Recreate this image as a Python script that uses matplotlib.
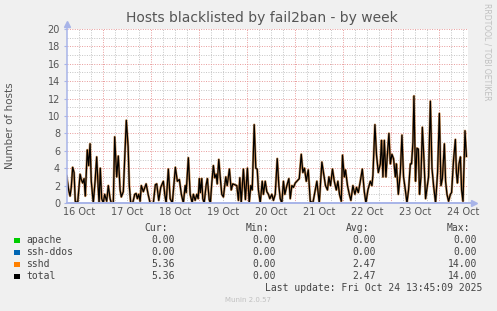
import matplotlib
matplotlib.use('Agg')
import matplotlib.pyplot as plt
from matplotlib.patches import Rectangle
from matplotlib.ticker import MultipleLocator

# hours since 16 Oct 00:00 and number of blacklisted hosts (sshd == total)
hours = [6, 7, 7.7, 8.3, 9, 9.7, 10.3, 11.5, 12.7, 13.3, 14, 14.7, 15.3, 16.3, 17, 17.7,
         18.3, 19.3, 20.2, 21, 21.7, 22.2, 22.8, 23.5, 24.3, 25, 26, 26.8, 27.7, 28.3, 29.3,
         30, 31, 31.8, 32.7, 33.3, 34.3, 35.8, 36.7, 37.3, 38, 39, 40, 40.7, 41.3, 42, 42.7,
         43.3, 44.3, 45.7, 46.7, 47.7, 49.3, 50.3, 51, 52, 53, 54.3, 55, 55.7, 56.8, 57.7,
         58.8, 60.3, 61.3, 62.3, 63.3, 64.3, 65.2, 65.7, 66.8, 67.7, 68.7, 69.3, 70.2, 71,
         71.7, 72.3, 72.8, 73.5, 74, 74.7, 75.7, 76.3, 77.2, 77.8, 78.5, 79.3, 80, 80.7, 81.2,
         82, 82.7, 83.5, 84.3, 85.5, 86.2, 87.3, 88.2, 89, 90, 91, 91.8, 92.5, 93.2, 94.3,
         95.3, 96.3, 97.2, 98, 98.7, 99.7, 100.5, 101.2, 101.8, 102.7, 103.7, 104.3, 105.2,
         106, 106.8, 107.5, 108.5, 109.3, 110.2, 111.2, 112, 112.7, 113.5, 114.3, 115, 116,
         117, 117.7, 118.5, 119.3, 120.2, 121, 122.2, 123.2, 124, 124.8, 125.7, 126.7, 127.7,
         129, 131, 132.2, 133.5, 134.3, 135.3, 136.3, 137, 137.8, 138.8, 139.7, 140.7, 141.5,
         142.3, 143.2, 143.8, 144.7, 145.3, 146.3, 147.2, 148, 149, 150, 150.8, 151.7, 152.7,
         153.7, 154.7, 155.5, 156.5, 157.7, 158.5, 159, 160, 160.8, 161.7, 162.7, 163.3, 164,
         164.7, 165.5, 166.2, 167, 167.7, 168.5, 169.3, 170.2, 170.7, 171.7, 172.7, 173.5,
         174.3, 175.2, 176, 176.8, 177.7, 178.3, 179, 179.5, 180.3, 181, 181.7, 182.3, 183,
         183.7, 184.5, 185.3, 186.2, 186.8, 187.7, 188.5, 189.3, 190.3, 191.3, 192.2, 193,
         193.7, 194.7, 195.3, 196, 196.8, 197.7, 198.3, 199.3, 200.2, 200.7, 201.2, 202, 202.7,
         203.3, 204, 205, 205.7]
hosts = [3.1, 1.5, 0.8, 1.8, 4.1, 3.5, 0.2, 0, 3.3, 2.7, 2.3, 2.8, 0.8, 6.1, 4.3, 6.8,
         2.5, 0, 2.5, 5.3, 2, 0, 4, 0.5, 0, 1.0, 0.2, 2.0, 0.5, 0, 0,
         7.6, 3, 5.4, 1.5, 0.7, 1.3, 9.5, 6.5, 2, 0, 0, 1.0, 1.1, 0.5, 1.0, 0.2,
         2.0, 1.3, 2.2, 1.0, 0, 0, 2.1, 2.2, 0.3, 1.8, 2.5, 1, 0, 3.9, 0.5,
         0, 4.1, 2.5, 2.7, 1.0, 0, 2.0, 1.2, 5.2, 1.0, 0, 1.0, 0.3, 1.0,
         0.5, 2.8, 1.2, 2.8, 0.5, 0, 2.1, 2.8, 0.4, 0, 2.3, 4.3, 2.9, 3.3, 2.2,
         5.0, 3.0, 1.0, 0.7, 3.0, 2.0, 3.9, 1.5, 2.2, 2.1, 2.0, 0.3, 2.9, 0, 3.9,
         0.4, 4.0, 0, 2, 1.5, 9.0, 4, 3.9, 1.5, 0, 2.5, 1.0, 2.5,
         1.3, 1.0, 0.5, 1.0, 0.3, 1.0, 5.1, 2.0, 0.5, 0, 2.5, 1, 2.0,
         2.8, 0.5, 2.0, 1.8, 2.3, 2.5, 2.8, 5.6, 3.5, 4.0, 2.5, 3.8, 0.2,
         0, 2.5, 0, 4.7, 3.5, 2, 1.5, 3.0, 2.0, 3.9, 2.5, 1.5, 2.5,
         1, 0.2, 5.5, 3.0, 3.8, 2.0, 1.0, 0.3, 2.0, 1.0, 1.8, 1.2, 2.5,
         3.9, 1.3, 0, 1.5, 2.5, 2.0, 3.2, 9.0, 5.5, 3.5, 4.5, 7.2, 3.0,
         7.2, 3.0, 5.5, 8.0, 4.5, 5.6, 5.1, 3.0, 4.5, 1.0, 3.5, 7.8,
         3.0, 1.5, 0, 1.5, 4.5, 4.5, 7.0, 12.3, 2.5, 6.3, 6.2, 1.0, 3.0,
         8.7, 5.0, 0.5, 2.0, 3.0, 11.7, 4.0, 2.0, 0, 3.5, 10.3, 2.0,
         2.8, 6.8, 2.5, 1.0, 0.2, 1.0, 1.2, 5.0, 7.3, 3.5, 2.3, 4.5, 5.3,
         1.5, 0.2, 8.3, 5.36]

day_labels = ['16 Oct', '17 Oct', '18 Oct', '19 Oct', '20 Oct', '21 Oct', '22 Oct', '23 Oct', '24 Oct']

series = ['apache', 'ssh-ddos', 'sshd', 'total']
colors = ['#00cc00', '#0066b3', '#ff8000', '#000000']
cur = ['0.00', '0.00', '5.36', '5.36']
mins = ['0.00', '0.00', '0.00', '0.00']
avgs = ['0.00', '0.00', '2.47', '2.47']
maxs = ['0.00', '0.00', '14.00', '14.00']

W, H = 497, 311
fig = plt.figure(figsize=(W / 100, H / 100), dpi=100, facecolor='#f0f0f0')
ax = fig.add_axes([67 / W, 1 - 203 / H, (468 - 67) / W, (203 - 29) / H])
ax.set_facecolor('white')

ax.set_xlim(6.17, 206.5)
ax.set_ylim(0, 20)

# grid
for x in range(12, 207, 6):
    if x % 24:
        ax.axvline(x, color='#c4c4c4', lw=0.7, ls=(0, (1, 1.5)), zorder=0)
for x in range(24, 207, 24):
    ax.axvline(x, color='#e89a9a', lw=0.7, ls=(0, (1, 1.5)), zorder=0)
for y in range(1, 21):
    c = '#e89a9a' if y % 2 == 0 else '#c4c4c4'
    ax.axhline(y, color=c, lw=0.7, ls=(0, (1, 1.5)), zorder=0)

ax.plot([hours[0], hours[-1]], [0, 0], color=colors[0], lw=0.5, zorder=1)
ax.plot([hours[0], hours[-1]], [0, 0], color=colors[1], lw=0.5, zorder=1)
ax.plot(hours, hosts, color='#b86a20', lw=1.7, alpha=0.75, zorder=3)
ax.plot(hours, hosts, color=colors[3], lw=0.9, zorder=4)

for s in ax.spines.values():
    s.set_visible(False)
axc = '#a8b4e8'
ax.plot([0, 0], [0, 1.02], transform=ax.transAxes, color=axc, lw=1.1, clip_on=False, zorder=6)
ax.plot([0, 1.012], [0, 0], transform=ax.transAxes, color=axc, lw=1.4, clip_on=False, zorder=6)
ax.plot([0], [1.03], transform=ax.transAxes, marker='^', ms=4, color=axc, clip_on=False)
ax.plot([1.015], [0], transform=ax.transAxes, marker='>', ms=4, color=axc, clip_on=False)

ax.yaxis.set_major_locator(MultipleLocator(2))
ax.set_xticks([12 + 24 * i for i in range(len(day_labels))])
ax.set_xticklabels(day_labels)
ax.tick_params(axis='both', length=0, labelsize=7, colors='#555555', pad=3)
ax.tick_params(axis='y', length=2, color=axc, width=0.8)

fig.text(262 / W, 1 - 18 / H, 'Hosts blacklisted by fail2ban - by week', ha='center', va='center',
         fontsize=10, color='#555555')
fig.text(10 / W, 1 - 126 / H, 'Number of hosts', rotation=90, ha='center', va='center',
         fontsize=7.5, color='#555555')
fig.text(487 / W, 1 - 52 / H, 'RRDTOOL / TOBI OETIKER', rotation=270, ha='center', va='center',
         fontsize=5.5, color='#c0c0c0')

mono = dict(family='DejaVu Sans Mono', fontsize=7, color='#444444', va='center')
for xr, head in [(168, 'Cur:'), (269, 'Min:'), (369, 'Avg:'), (470, 'Max:')]:
    fig.text(xr / W, 1 - 228 / H, head, ha='right', **mono)
for i, name in enumerate(series):
    yy = 240 + i * 12
    fig.add_artist(Rectangle((14 / W, 1 - (yy + 3) / H), 5.5 / W, 5.5 / H,
                             transform=fig.transFigure, facecolor=colors[i], edgecolor='none'))
    fig.text(26.5 / W, 1 - yy / H, name, ha='left', **mono)
    for xr, vals in [(175, cur), (276, mins), (376, avgs), (477, maxs)]:
        fig.text(xr / W, 1 - yy / H, vals[i], ha='right', **mono)
fig.text(482 / W, 1 - 288 / H, 'Last update: Fri Oct 24 13:45:09 2025', ha='right', **mono)
fig.text(248 / W, 1 - 300 / H, 'Munin 2.0.57', ha='center', va='center', fontsize=5, color='#c0c0c0')

fig.savefig('out.png', dpi=100, facecolor=fig.get_facecolor())
